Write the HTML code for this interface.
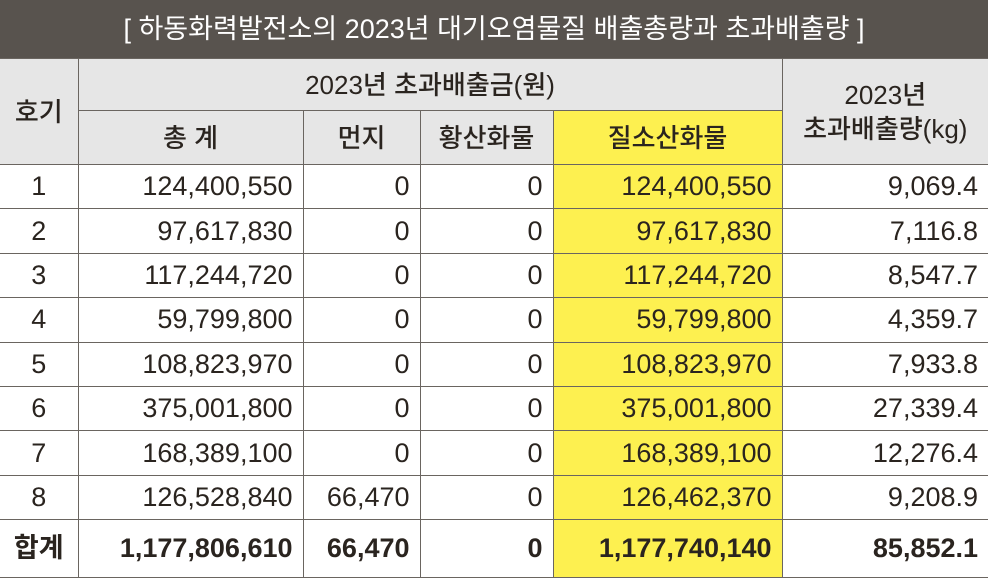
<!DOCTYPE html>
<html><head><meta charset="utf-8"><style>
body{margin:0;width:988px;height:579px;background:#fff;overflow:hidden;font-family:"Liberation Sans","Noto Sans CJK KR",sans-serif;}
.title{position:absolute;left:0;top:0;width:988px;height:58px;background:#58534e;color:#fff;font-size:27px;line-height:58px;text-align:center;font-family:"Liberation Sans","Noto Sans CJK KR",sans-serif;}
table{position:absolute;left:0;top:58px;border-collapse:collapse;table-layout:fixed;width:988px;}
td,th{border:1.5px solid #6a6560;padding:0 10px;font-size:26px;color:#2a241f;overflow:hidden;white-space:nowrap;line-height:1;}
th{background:#e6e6e6;font-weight:500;text-align:center;}
tr td:first-child, tr th:first-child{border-left:none}
tr td:last-child, tr th:last-child{border-right:none}
td{text-align:right;font-weight:300;font-size:27px;}
tr.d{height:44.4px;}
td.c{text-align:center;}
.y{background:#fdf050;}
.tot{height:58px;}
.tot td{font-weight:bold;}
</style></head><body>
<div class="title">[ 하동화력발전소의 2023년 대기오염물질 배출총량과 초과배출량 ]</div>
<table>
<colgroup><col style="width:78px"><col style="width:225px"><col style="width:117px"><col style="width:133px"><col style="width:229px"><col style="width:206px"></colgroup>
<tr style="height:52px"><th rowspan="2">호기</th><th colspan="4">2023년 초과배출금(원)</th><th rowspan="2" style="line-height:34px">2023년<br>초과배출량(kg)</th></tr>
<tr style="height:54px"><th>총 계</th><th>먼지</th><th>황산화물</th><th class="y">질소산화물</th></tr>
<tr class="d"><td class="c">1</td><td>124,400,550</td><td>0</td><td>0</td><td class="y">124,400,550</td><td>9,069.4</td></tr>
<tr class="d"><td class="c">2</td><td>97,617,830</td><td>0</td><td>0</td><td class="y">97,617,830</td><td>7,116.8</td></tr>
<tr class="d"><td class="c">3</td><td>117,244,720</td><td>0</td><td>0</td><td class="y">117,244,720</td><td>8,547.7</td></tr>
<tr class="d"><td class="c">4</td><td>59,799,800</td><td>0</td><td>0</td><td class="y">59,799,800</td><td>4,359.7</td></tr>
<tr class="d"><td class="c">5</td><td>108,823,970</td><td>0</td><td>0</td><td class="y">108,823,970</td><td>7,933.8</td></tr>
<tr class="d"><td class="c">6</td><td>375,001,800</td><td>0</td><td>0</td><td class="y">375,001,800</td><td>27,339.4</td></tr>
<tr class="d"><td class="c">7</td><td>168,389,100</td><td>0</td><td>0</td><td class="y">168,389,100</td><td>12,276.4</td></tr>
<tr class="d"><td class="c">8</td><td>126,528,840</td><td>66,470</td><td>0</td><td class="y">126,462,370</td><td>9,208.9</td></tr>
<tr class="tot"><td class="c">합계</td><td>1,177,806,610</td><td>66,470</td><td>0</td><td class="y">1,177,740,140</td><td>85,852.1</td></tr>
</table>
</body></html>
